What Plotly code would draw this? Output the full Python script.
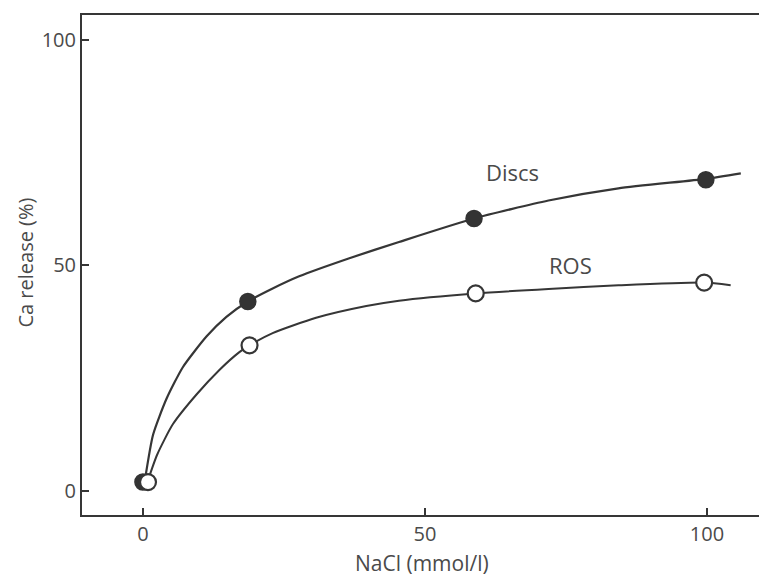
import plotly.graph_objects as go

# Measured data points
discs_x = [0, 18.6, 58.7, 99.8]
discs_y = [2.0, 42.0, 60.4, 69.0]
ros_x = [0.9, 18.9, 59.0, 99.5]
ros_y = [2.0, 32.3, 43.8, 46.2]

# Hand-drawn curves
discs_curve_x = [0.35, 1.8, 4.2, 7.1, 11.3, 14.8, 18.6, 23.0, 27.7, 36.6, 45.4, 58.7, 71.9, 84.3, 99.8, 106.0]
discs_curve_y = [2.4, 12.5, 20.5, 27.5, 34.3, 38.6, 42.0, 44.9, 47.6, 51.6, 55.2, 60.4, 64.4, 67.1, 69.2, 70.4]
ros_curve_x = [0.9, 2.5, 5.3, 9.5, 13.6, 17.1, 18.9, 23.0, 30.7, 39.6, 45.4, 59.0, 71.9, 84.3, 99.5, 104.2]
ros_curve_y = [2.4, 8.0, 14.8, 21.4, 26.9, 30.8, 32.3, 35.0, 38.4, 41.0, 42.2, 43.8, 44.8, 45.6, 46.2, 45.6]

x_ticks = [0, 50, 100]
y_ticks = [0, 50, 100]

ink = "#363636"
text_col = "#4a4a4a"
font = "Open Sans"

fig = go.Figure()
fig.add_trace(go.Scatter(x=discs_curve_x, y=discs_curve_y, mode="lines",
                         line=dict(color=ink, width=2.2, shape="spline", smoothing=0.6),
                         hoverinfo="skip", showlegend=False))
fig.add_trace(go.Scatter(x=ros_curve_x, y=ros_curve_y, mode="lines",
                         line=dict(color=ink, width=2, shape="spline", smoothing=0.6),
                         hoverinfo="skip", showlegend=False))
fig.add_trace(go.Scatter(x=discs_x, y=discs_y, mode="markers", name="Discs",
                         marker=dict(size=16, color="#333333", line=dict(color="#333333", width=1.5)),
                         showlegend=False))
fig.add_trace(go.Scatter(x=ros_x, y=ros_y, mode="markers", name="ROS",
                         marker=dict(size=16, color="white", line=dict(color=ink, width=2.2)),
                         showlegend=False))

fig.add_annotation(x=65.5, y=70.6, text="Discs", showarrow=False,
                   font=dict(family=font, size=22, color=text_col))
fig.add_annotation(x=75.8, y=50.0, text="ROS", showarrow=False,
                   font=dict(family=font, size=22, color=text_col))
fig.add_annotation(xref="paper", yref="paper", x=0.501, y=-0.095, text="NaCl (mmol/l)",
                   showarrow=False, xanchor="center", yanchor="middle",
                   font=dict(family=font, size=21, color=text_col))
fig.add_annotation(xref="paper", yref="paper", x=-0.084, y=0.505, text="Ca release (%)",
                   showarrow=False, xanchor="center", yanchor="middle", textangle=-90,
                   font=dict(family=font, size=20, color=text_col))

# page body has an 8px default margin, so the figure is sized to fit the window
fig.update_layout(
    width=759, height=569,
    margin=dict(l=74, r=5, t=6, b=62),
    paper_bgcolor="white", plot_bgcolor="white",
    font=dict(family=font, size=20, color=text_col),
)
fig.update_xaxes(range=[-10.8, 109.4], tickvals=x_ticks, ticktext=[str(v) for v in x_ticks],
                 showgrid=False, zeroline=False, showline=True, linecolor=ink, linewidth=2,
                 mirror=True, ticks="inside", ticklen=7, tickwidth=2, tickcolor=ink)
fig.update_yaxes(range=[-5.3, 105.5], tickvals=y_ticks, ticktext=[str(v) for v in y_ticks],
                 showgrid=False, zeroline=False, showline=True, linecolor=ink, linewidth=2,
                 mirror=True, ticks="inside", ticklen=7, tickwidth=2, tickcolor=ink)

fig.write_html("out.html")
